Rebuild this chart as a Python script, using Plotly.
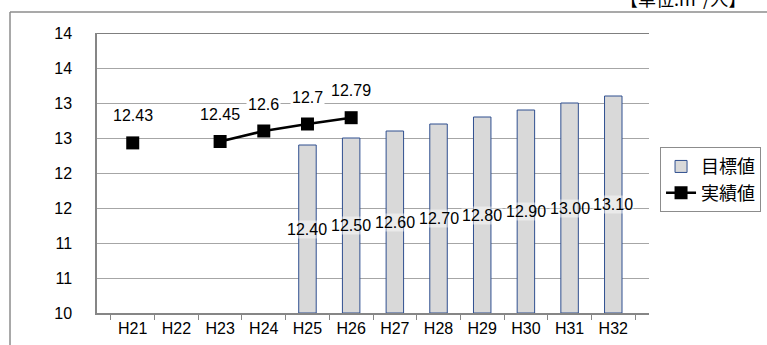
import plotly.graph_objects as go

categories = ["H21", "H22", "H23", "H24", "H25", "H26", "H27", "H28", "H29", "H30", "H31", "H32"]
target_values = [None, None, None, None, 12.40, 12.50, 12.60, 12.70, 12.80, 12.90, 13.00, 13.10]
actual_values = [12.43, None, 12.45, 12.6, 12.7, 12.79, None, None, None, None, None, None]
actual_labels = ["12.43", "", "12.45", "12.6", "12.7", "12.79", "", "", "", "", "", ""]
y_tick_vals = [10, 10.5, 11, 11.5, 12, 12.5, 13, 13.5, 14]
y_tick_text = ["10", "11", "11", "12", "12", "13", "13", "14", "14"]
y_base = 10
y_top = 14

FONT = "'Liberation Sans', 'Noto Sans CJK JP'"
CJK = "'Noto Sans CJK JP'"

fig = go.Figure()
fig.add_trace(go.Bar(
    x=categories, y=[None if v is None else v - y_base for v in target_values], base=y_base,
    name="目標値", marker=dict(color="#d9d9d9", line=dict(color="#2f4f8f", width=1)),
    width=0.4,
))
fig.add_trace(go.Scatter(
    x=categories, y=actual_values, name="実績値", mode="lines+markers",
    line=dict(color="black", width=2.5), marker=dict(symbol="square", size=13, color="black"),
    connectgaps=False,
))

annotations = []
for c, v in zip(categories, target_values):
    if v is not None:
        annotations.append(dict(x=c, y=(v + y_base) / 2, text=f"{v:.2f}", showarrow=False,
                                font=dict(size=16, color="black", family=FONT),
                                bgcolor="rgba(255,255,255,0.45)", borderpad=0))
for c, v, t in zip(categories, actual_values, actual_labels):
    if v is not None:
        annotations.append(dict(x=c, y=v, text=t, showarrow=False, yshift=27,
                                font=dict(size=16, color="black", family=FONT),
                                bgcolor="white", borderpad=1))
annotations.append(dict(xref="paper", yref="paper", x=1.18, y=1.072, xanchor="right",
                        yanchor="bottom", text="【単位:m²/人】", showarrow=False,
                        font=dict(size=18, color="black", family=CJK)))
fig.update_layout(annotations=annotations)

fig.update_layout(
    width=767, height=345,
    margin=dict(l=97, r=118, t=33, b=32, autoexpand=False),
    paper_bgcolor="white", plot_bgcolor="white",
    font=dict(family=FONT, size=16, color="black"),
    showlegend=True,
    legend=dict(x=1.02, y=0.592, xanchor="left", yanchor="top",
                bordercolor="#8c8c8c", borderwidth=1, font=dict(size=18, family=CJK),
                tracegroupgap=0, itemwidth=30),
    shapes=[
        dict(type="line", xref="paper", yref="paper", x0=-0.1576, x1=1.3, y0=1.075, y1=1.075,
             line=dict(color="#8c8c8c", width=1.5)),
        dict(type="line", xref="paper", yref="paper", x0=-0.1576, x1=-0.1576, y0=1.075, y1=-0.2,
             line=dict(color="#8c8c8c", width=1.5)),
        dict(type="line", xref="paper", yref="y", x0=0, x1=1, y0=y_top, y1=y_top,
             line=dict(color="black", width=1)),
    ],
)
fig.update_xaxes(showline=True, linecolor="#868686", linewidth=1.5, ticks="outside",
                 tickson="boundaries", ticklen=5, tickcolor="#868686", showgrid=False,
                 tickfont=dict(size=16), automargin=False)
fig.update_yaxes(range=[y_base, y_top], tickvals=y_tick_vals, ticktext=y_tick_text,
                 showline=True, linecolor="#868686", linewidth=1.5, showgrid=True,
                 gridcolor="#a6a6a6", gridwidth=1, ticks="", ticklabelstandoff=20,
                 tickfont=dict(size=16), zeroline=False, automargin=False)

fig.write_html("out.html", config={"displayModeBar": False},
               post_script="document.body.style.margin='0';")
